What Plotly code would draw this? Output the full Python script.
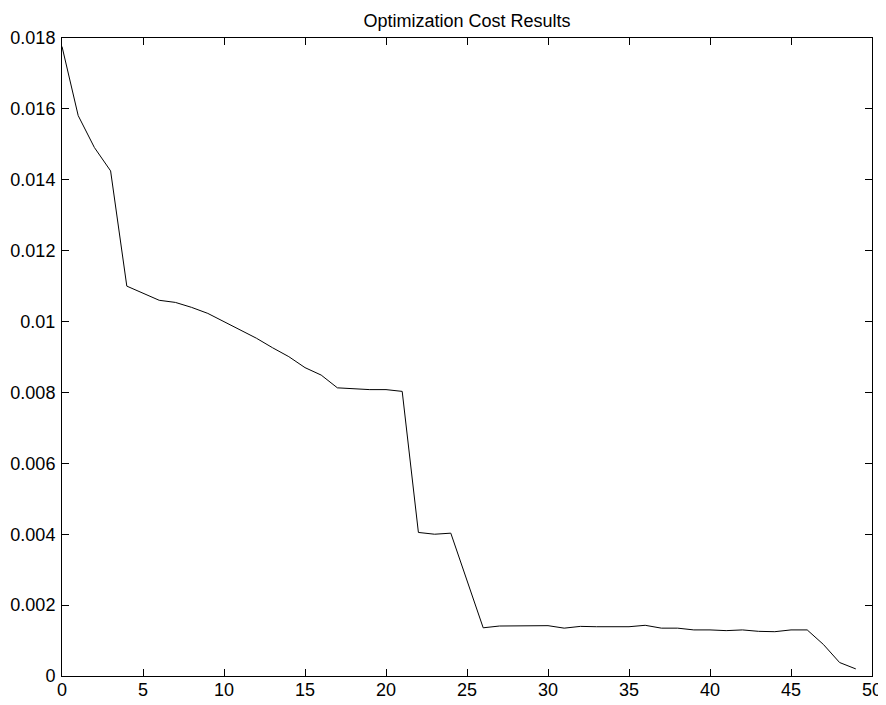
# plot.py
import plotly.graph_objects as go

iterations = list(range(50))
cost = [
    0.01776, 0.01581, 0.01491, 0.01425, 0.01100, 0.01080, 0.01060, 0.01054,
    0.01040, 0.01023, 0.01000, 0.00978, 0.00953, 0.00926, 0.00901, 0.00870,
    0.00849, 0.00813, 0.00810, 0.00808, 0.00808, 0.00803, 0.00405, 0.00400,
    0.00403, 0.00270, 0.00136, 0.00141, 0.00142, 0.00143, 0.00142, 0.00135,
    0.00140, 0.00139, 0.00139, 0.00139, 0.00143, 0.00135, 0.00135, 0.00130,
    0.00130, 0.00128, 0.00130, 0.00126, 0.00125, 0.00130, 0.00130, 0.00089,
    0.00038, 0.00020,
]
x_ticks = [0, 5, 10, 15, 20, 25, 30, 35, 40, 45, 50]
y_ticks = [0, 0.002, 0.004, 0.006, 0.008, 0.01, 0.012, 0.014, 0.016, 0.018]
y_labels = ["0", "0.002", "0.004", "0.006", "0.008", "0.01", "0.012", "0.014", "0.016", "0.018"]

fig = go.Figure()
fig.add_trace(go.Scatter(x=iterations, y=cost, mode="lines",
                         line=dict(color="black", width=1), showlegend=False))

axis_style = dict(showline=True, linecolor="black", linewidth=1, mirror="ticks",
                  ticks="inside", ticklen=7, tickcolor="black", tickwidth=1,
                  showgrid=False, zeroline=False, automargin=False,
                  tickfont=dict(family="Liberation Sans, Arial, sans-serif", size=18, color="black"))

# page body has an 8px margin, so the figure is a bit smaller than the window
fig.update_layout(
    width=878, height=697,
    paper_bgcolor="white", plot_bgcolor="white",
    margin=dict(l=54, r=14, t=30, b=29),
    title=dict(text="Optimization Cost Results", x=0.5, xanchor="center", xref="paper",
               y=1 - 12.5 / 697, yanchor="middle",
               font=dict(family="Liberation Sans, Arial, sans-serif", size=18, color="black")),
    xaxis=dict(range=[0, 50], tickvals=x_ticks, ticklabelstandoff=-3, **axis_style),
    yaxis=dict(range=[0, 0.018], tickvals=y_ticks, ticktext=y_labels,
               ticklabelstandoff=2, **axis_style),
)

fig.write_html("out.html")
